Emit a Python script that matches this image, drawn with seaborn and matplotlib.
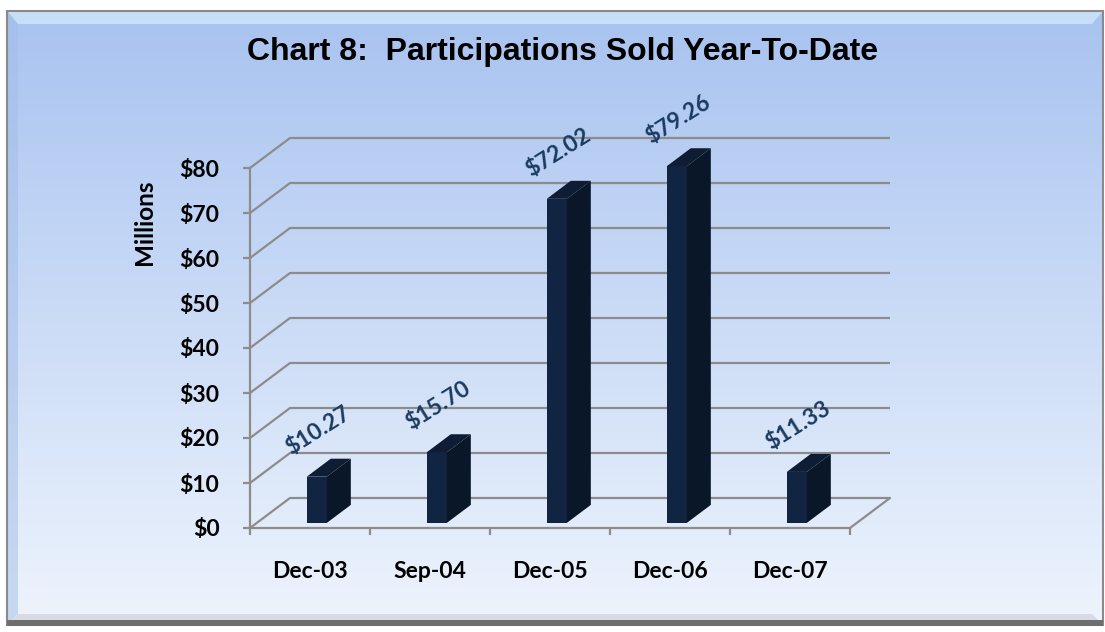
import numpy as np
import pandas as pd
import matplotlib
matplotlib.use("Agg")
import matplotlib.pyplot as plt
import seaborn as sns
from matplotlib.patches import Polygon, Rectangle

# chart data
periods = ["Dec-03", "Sep-04", "Dec-05", "Dec-06", "Dec-07"]
sold = [10.27, 15.70, 72.02, 79.26, 11.33]
y_ticks = [0, 10, 20, 30, 40, 50, 60, 70, 80]
y_tick_labels = ["$0", "$10", "$20", "$30", "$40", "$50", "$60", "$70", "$80"]
value_labels = ["$10.27", "$15.70", "$72.02", "$79.26", "$11.33"]

df = pd.DataFrame({"period": periods, "sold": sold})

sns.set_theme(style="white")
plt.rcParams["font.family"] = ["Lato", "DejaVu Sans"]

W, H = 1105, 632
fig = plt.figure(figsize=(W / 100, H / 100), dpi=100)

# background panel with vertical gradient
bg = fig.add_axes([0, 0, 1, 1])
bg.set_xlim(0, W)
bg.set_ylim(H, 0)
bg.axis("off")
top_c = np.array([168, 195, 240]) / 255
bot_c = np.array([238, 244, 253]) / 255
t = np.linspace(0, 1, 256)[:, None]
grad = (top_c * (1 - t) + bot_c * t)[:, None, :]
bg.imshow(grad, extent=[7, 1103, 625, 11], aspect="auto", zorder=0)
# bevel strips
bg.add_patch(Polygon([[7, 11], [1103, 11], [1092, 24], [18, 24]], closed=True,
                     facecolor="#d4ecfb", edgecolor="none", alpha=0.7, zorder=1))
bg.add_patch(Polygon([[7, 11], [18, 24], [18, 614], [7, 625]], closed=True,
                     facecolor="#a2bde8", edgecolor="none", alpha=0.5, zorder=1))
bg.add_patch(Polygon([[7, 625], [18, 614], [1092, 614], [1103, 625]], closed=True,
                     facecolor="#d6dae0", edgecolor="none", alpha=0.9, zorder=1))
bg.add_patch(Rectangle((7, 11), 1096, 614, fill=False, edgecolor="#8a8a8a", lw=1.5, zorder=2))
bg.add_patch(Rectangle((7, 620), 1096, 6, facecolor="#6e6e6e", edgecolor="none", zorder=2))

# plot axes: front plane x from 250px to 850px, y0 at 528px, 4.5 px per unit
px_l, px_r, px_t, px_b = 240, 900, 120, 540
ax = fig.add_axes([px_l / W, 1 - px_b / H, (px_r - px_l) / W, (px_b - px_t) / H])
ax.patch.set_alpha(0)

dxd, dyd = 40 / 120, 30 / 4.5   # depth offset in data units
grid_c = "#8c8c8c"

# bars (front faces) via seaborn, then pushed into depth
bw = 0.167
sns.barplot(data=df, x="period", y="sold", color="#112441", width=bw,
            saturation=1, ax=ax, zorder=3)
d0, d1 = 0.17, 0.6
for p in list(ax.patches):
    x0 = p.get_x() + d0 * dxd
    y0 = d0 * dyd
    h = p.get_height()
    p.set_x(x0)
    p.set_y(y0)
    p.set_edgecolor("none")
    x1 = x0 + p.get_width()
    y1 = y0 + h
    side = [[x1, y0], [x1 + d1 * dxd, y0 + d1 * dyd], [x1 + d1 * dxd, y1 + d1 * dyd], [x1, y1]]
    top = [[x0, y1], [x1, y1], [x1 + d1 * dxd, y1 + d1 * dyd], [x0 + d1 * dxd, y1 + d1 * dyd]]
    ax.add_patch(Polygon(side, closed=True, facecolor="#0a1729", edgecolor="none", zorder=3))
    ax.add_patch(Polygon(top, closed=True, facecolor="#0e1d33", edgecolor="none", zorder=3))

# perspective gridlines
for v in y_ticks:
    ax.plot([-0.5, -0.5 + dxd, 4.5 + dxd], [v, v + dyd, v + dyd],
            color=grid_c, lw=1.6, zorder=1, solid_capstyle="butt")
ax.plot([4.5, 4.5 + dxd], [0, dyd], color=grid_c, lw=1.6, zorder=1)

ax.set_xlim(-0.5 - 10 / 120, -0.5 + (px_r - 250) / 120)
ax.set_ylim(-(px_b - 528) / 4.5, (528 - px_t) / 4.5)

# value labels
for i, (v, lab) in enumerate(zip(sold, value_labels)):
    ax.annotate(lab, xy=(i, v), xytext=(6, 37), textcoords="offset points",
                ha="center", va="center", rotation=32, rotation_mode="anchor",
                fontsize=16.5, fontweight="bold", color="#1a3a60", zorder=5)

# axes styling
for s in ["top", "right"]:
    ax.spines[s].set_visible(False)
ax.spines["left"].set_position(("data", -0.5))
ax.spines["left"].set_bounds(0, 80)
ax.spines["bottom"].set_position(("data", 0))
ax.spines["bottom"].set_bounds(-0.5, 4.5)
for s in ["left", "bottom"]:
    ax.spines[s].set_color(grid_c)
    ax.spines[s].set_linewidth(1.6)
    ax.spines[s].set_zorder(2)

ax.set_yticks(y_ticks)
ax.set_yticklabels(y_tick_labels, fontsize=16.5, fontweight="bold", color="black")
ax.tick_params(axis="y", length=5, width=1.6, color=grid_c, pad=17, left=True)
ax.set_xticks(range(len(periods)))
ax.set_xticklabels(periods, fontsize=16.5, fontweight="bold", color="black")
ax.set_xticks(np.arange(-0.5, 5, 1), minor=True)
ax.tick_params(axis="x", which="major", length=0, pad=24)
ax.tick_params(axis="x", which="minor", length=5, width=1.6, color=grid_c, bottom=True)
ax.set_xlabel("")
ax.set_ylabel("")

fig.text(145 / W, 1 - 222 / H, "Millions", rotation=90, ha="center", va="center",
         fontsize=17.5, fontweight="bold", color="black")
fig.text(563 / W, 1 - 52 / H, "Chart 8:  Participations Sold Year-To-Date",
         ha="center", va="center", fontsize=23, fontweight="bold",
         family="Liberation Sans", color="black")

fig.savefig("out.png", dpi=100)
